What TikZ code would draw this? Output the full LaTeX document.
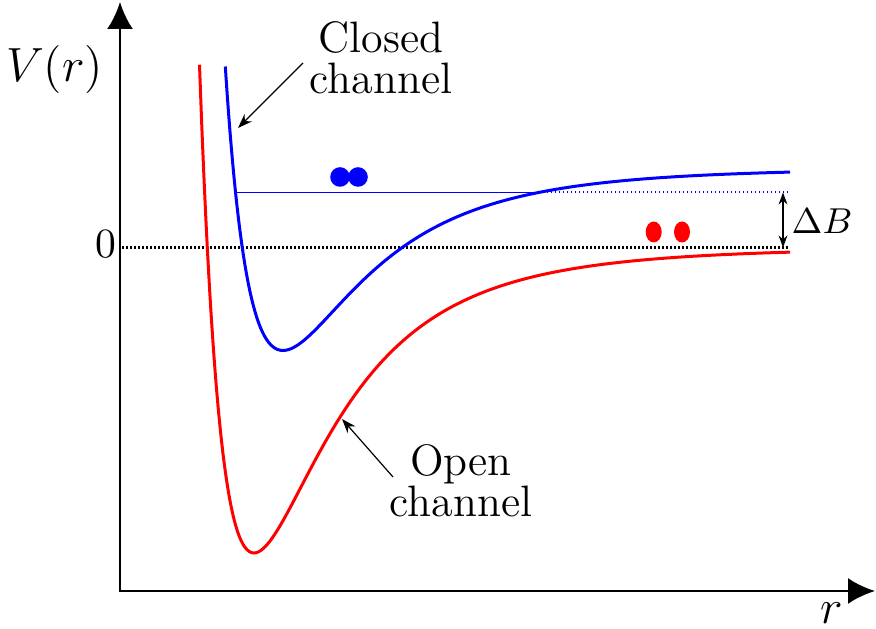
\documentclass[tikz,border=0pt]{standalone}
\usetikzlibrary{arrows.meta}
\begin{document}
\begin{tikzpicture}[x=0.25pt,y=0.25pt,
  declare function={lj(\r,\m)=(\m/\r)^12-2*(\m/\r)^6;},
  axis/.style={line width=0.7pt,{Latex[length=6.75pt,width=6.5pt]}-{Latex[length=6.75pt,width=6.5pt]}},
  curve/.style={line width=0.75pt,smooth,samples=250},
  pointer/.style={line width=0.3pt,-{Stealth[length=3.6pt,width=2.6pt]}},
  lbl/.style={inner sep=0pt,align=center,font=\fontsize{11}{10.3}\selectfont}]
  % colors
  \definecolor{kBlue}{rgb}{0,0,1}
  \definecolor{kRed}{rgb}{1,0,0}
  \useasboundingbox (-120,-38) rectangle (756,591);
  % axes
  \coordinate (O) at (0,0);
  \coordinate (ytip) at (0,589);
  \coordinate (xtip) at (755,0);
  \draw[axis] (ytip) -- (O) -- (xtip);
  \node[font=\fontsize{11.5}{12}\selectfont] (lblV) at (-65.5,521.5) {$V(r)$};
  \node[inner sep=0pt,font=\fontsize{13}{13}\selectfont] (lblR) at (711.5,-22) {$r$};
  \node[font=\fontsize{10.4}{12}\selectfont] (lblZero) at (-14,346.5) {0};
  % zero and bound level
  \coordinate (z0) at (2,343.5);
  \coordinate (z1) at (670,343.5);
  \draw[line width=0.7pt,dash pattern=on 0.5pt off 0.5pt] (z0) -- (z1);
  \coordinate (b0) at (116,398.5);
  \coordinate (b1) at (418.8,398.5);
  \coordinate (b2) at (670,398.5);
  \draw[kBlue,line width=0.45pt] (b0) -- (b1);
  \draw[kBlue,line width=0.5pt,dash pattern=on 0.4pt off 0.6pt] (b1) -- (b2);
  % potentials
  \draw[kRed,curve,domain=79.5:670] plot (\x,{343.5+305.5*lj(\x+294,428)});
  \draw[kBlue,curve,domain=105.3:670] plot (\x,{423+182.5*lj(\x+294,457)});
  % detuning
  \coordinate (d0) at (663,398.5);
  \coordinate (d1) at (663,343.5);
  \draw[line width=0.4pt,{Stealth[length=3pt,width=2.2pt]}-{Stealth[length=3pt,width=2.2pt]}] (d0) -- (d1);
  \node[font=\fontsize{9.5}{11}\selectfont] (lblDB) at (702,370) {$\Delta B$};
  % atoms
  \foreach \x in {220,238}
    \fill[kBlue] (\x,414) circle (9.8);
  \foreach \x in {533.7,562}
    \fill[kRed] (\x,359) ellipse (8 and 10.5);
  % labels
  \node[lbl] (lblClosed) at (261,533) {Closed\\channel};
  \node[lbl] (lblOpen) at (341,110) {Open\\channel};
  \coordinate (cTail) at (183,528);
  \coordinate (cTip) at (118,463);
  \coordinate (oTail) at (273,114);
  \coordinate (oTip) at (222,172);
  \draw[pointer] (cTail) -- (cTip);
  \draw[pointer] (oTail) -- (oTip);
\end{tikzpicture}
\end{document}
